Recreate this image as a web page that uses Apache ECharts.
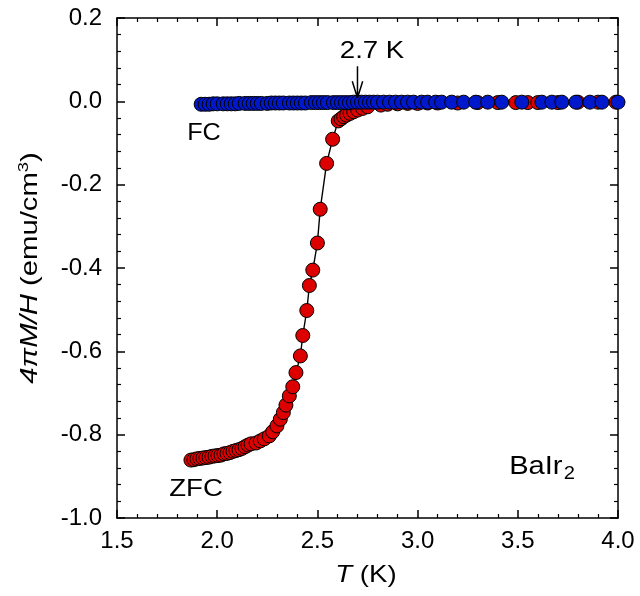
<!DOCTYPE html>
<html><head><meta charset="utf-8">
<script src="https://cdn.jsdelivr.net/npm/echarts@6/dist/echarts.min.js"></script>
<style>html,body{margin:0;padding:0;background:#fff}#c{width:640px;height:596px}</style>
</head><body><div id="c"></div>
<script>
// ZFC (red) data
const zfcT = [1.869,1.884,1.899,1.914,1.929,1.944,1.959,1.974,1.989,2.004,2.019,2.034,2.049,2.064,2.079,2.094,2.109,2.124,2.139,2.154,2.169,2.194,2.215,2.235,2.260,2.277,2.298,2.315,2.330,2.343,2.360,2.377,2.393,2.415,2.427,2.447,2.460,2.477,2.500,2.514,2.546,2.576,2.604,2.618,2.631,2.646,2.663,2.681,2.701,2.726,2.751,2.817,2.85,2.90,2.95,3.00,3.05,3.10,3.20,3.30,3.40,3.49,3.55,3.60,3.70,3.80,3.90,3.99];
const zfcM = [-0.861,-0.860,-0.858,-0.857,-0.856,-0.855,-0.854,-0.852,-0.851,-0.850,-0.849,-0.846,-0.845,-0.843,-0.840,-0.838,-0.836,-0.833,-0.829,-0.825,-0.822,-0.820,-0.815,-0.810,-0.803,-0.793,-0.779,-0.763,-0.747,-0.729,-0.707,-0.685,-0.651,-0.611,-0.562,-0.502,-0.442,-0.405,-0.340,-0.259,-0.149,-0.091,-0.047,-0.042,-0.037,-0.033,-0.029,-0.025,-0.021,-0.017,-0.013,-0.009,-0.007,-0.006,-0.005,-0.005,-0.004,-0.004,-0.004,-0.003,-0.003,-0.003,-0.003,-0.003,-0.003,-0.002,-0.002,-0.002];
// FC (blue) data
const fcT = [1.92,1.94,1.96,1.98,2.00,2.03,2.05,2.07,2.09,2.11,2.14,2.16,2.18,2.20,2.22,2.25,2.27,2.29,2.31,2.33,2.36,2.38,2.40,2.42,2.44,2.47,2.49,2.51,2.53,2.55,2.58,2.60,2.62,2.64,2.66,2.68,2.70,2.72,2.74,2.76,2.78,2.80,2.83,2.86,2.89,2.92,2.95,2.98,3.02,3.05,3.09,3.12,3.17,3.23,3.29,3.35,3.42,3.52,3.62,3.67,3.72,3.79,3.86,3.92,4.00];
const fcM = [-0.007,-0.007,-0.007,-0.006,-0.006,-0.006,-0.006,-0.006,-0.006,-0.005,-0.005,-0.005,-0.005,-0.005,-0.005,-0.005,-0.004,-0.004,-0.004,-0.004,-0.004,-0.004,-0.004,-0.004,-0.004,-0.003,-0.003,-0.003,-0.003,-0.003,-0.003,-0.003,-0.003,-0.003,-0.003,-0.002,-0.002,-0.002,-0.002,-0.002,-0.002,-0.002,-0.002,-0.002,-0.002,-0.002,-0.002,-0.002,-0.002,-0.002,-0.002,-0.002,-0.002,-0.002,-0.002,-0.002,-0.002,-0.002,-0.002,-0.002,-0.002,-0.002,-0.002,-0.002,-0.002];
// Arrow marking 2.7 K
const arrowT = 2.7;
const arrowTop = 0.084, arrowTip = 0.008, arrowHead = 0.048, arrowHalf = 0.026;
// Axes ticks
const xTicks = [1.5, 4.0, 0.5];
const yTicks = [-1.0, 0.2, 0.2];

const FONT = 'Liberation Sans';
const FS = 24;
const zfc = zfcT.map((t, i) => [t, zfcM[i]]);
const fc = fcT.map((t, i) => [t, fcM[i]]);

const chart = echarts.init(document.getElementById('c'), null, {renderer: 'canvas'});
const axisCommon = {
  axisLine: {show: true, onZero: false, lineStyle: {color: '#000', width: 1.5}},
  axisTick: {show: true, inside: true, length: 8, lineStyle: {color: '#000', width: 1.5}},
  minorTick: {show: true, splitNumber: 5, length: 4, lineStyle: {color: '#000', width: 1.2}},
  splitLine: {show: false}
};
chart.setOption({
  animation: false,
  grid: {left: 117, right: 22, top: 18, bottom: 78, containLabel: false},
  xAxis: [
    Object.assign({type: 'value', position: 'bottom', min: xTicks[0], max: xTicks[1], interval: xTicks[2],
      axisLabel: {color: '#000', fontFamily: FONT, fontSize: FS, margin: 11, formatter: v => v.toFixed(1)}
    }, axisCommon),
    Object.assign({type: 'value', position: 'top', min: xTicks[0], max: xTicks[1], interval: xTicks[2],
      axisLabel: {show: false}}, axisCommon)
  ],
  yAxis: [
    Object.assign({type: 'value', position: 'left', min: yTicks[0], max: yTicks[1], interval: yTicks[2],
      axisLabel: {color: '#000', fontFamily: FONT, fontSize: FS, margin: 15, formatter: v => v.toFixed(1)}
    }, axisCommon),
    Object.assign({type: 'value', position: 'right', min: yTicks[0], max: yTicks[1], interval: yTicks[2],
      axisLabel: {show: false}}, axisCommon)
  ],
  series: [
    {type: 'line', name: 'ZFC', data: zfc, xAxisIndex: 0, yAxisIndex: 0, symbol: 'circle', symbolSize: 14,
      showAllSymbol: true, z: 2,
      itemStyle: {color: '#dd0000', borderColor: '#000', borderWidth: 1},
      lineStyle: {color: '#000', width: 1.4}},
    {type: 'scatter', name: 'FC', data: fc, xAxisIndex: 0, yAxisIndex: 0, symbol: 'circle', symbolSize: 14, z: 3,
      itemStyle: {color: '#0018cc', borderColor: '#000', borderWidth: 1, opacity: 1}},
    {type: 'line', name: 'arrow', xAxisIndex: 0, yAxisIndex: 0, symbol: 'none', z: 4, silent: true,
      connectNulls: false,
      data: [[arrowT, arrowTop], [arrowT, arrowTip], null, [arrowT - arrowHalf, arrowHead], [arrowT, arrowTip], [arrowT + arrowHalf, arrowHead]],
      lineStyle: {color: '#000', width: 1.5}}
  ],
  graphic: [
    {type: 'text', x: 30, y: 268, rotation: Math.PI / 2, scaleX: 1.22,
      style: {text: '{i|4πM/H} (emu/cm{s|3})', align: 'center', verticalAlign: 'middle', fontFamily: FONT, fontSize: 24, fill: '#000',
        rich: {i: {fontStyle: 'italic', fontFamily: FONT, fontSize: 24, fill: '#000'},
               s: {fontFamily: FONT, fontSize: 15, fill: '#000', padding: [0, 0, 12, 0]}}}},
    {type: 'text', x: 366, y: 575, scaleX: 1.15,
      style: {text: '{i|T} (K)', align: 'center', verticalAlign: 'middle', fontFamily: FONT, fontSize: 24, fill: '#000',
        rich: {i: {fontStyle: 'italic', fontFamily: FONT, fontSize: 24, fill: '#000'}}}},
    {type: 'text', x: 372, y: 51, scaleX: 1.15, style: {text: '2.7 K', align: 'center', verticalAlign: 'middle', fontFamily: FONT, fontSize: FS, fill: '#000'}},
    {type: 'text', x: 204, y: 133, scaleX: 1.05, style: {text: 'FC', align: 'center', verticalAlign: 'middle', fontFamily: FONT, fontSize: FS, fill: '#000'}},
    {type: 'text', x: 196, y: 489, scaleX: 1.15, style: {text: 'ZFC', align: 'center', verticalAlign: 'middle', fontFamily: FONT, fontSize: FS, fill: '#000'}},
    {type: 'text', x: 542, y: 467, scaleX: 1.12, style: {text: '{a|BaIr}{b|2}', align: 'center', verticalAlign: 'middle', fontFamily: FONT, fontSize: 26, fill: '#000',
      rich: {a: {fontFamily: FONT, fontSize: 26, fill: '#000'}, b: {fontFamily: FONT, fontSize: 18, fill: '#000', padding: [14, 0, 0, 1]}}}}
  ]
});
</script></body></html>
